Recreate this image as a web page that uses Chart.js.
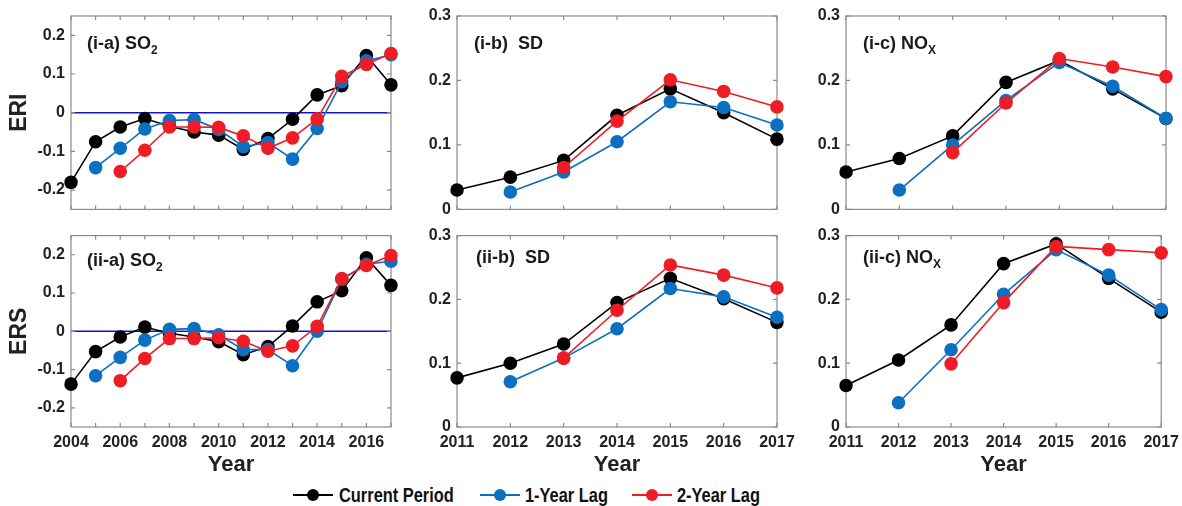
<!DOCTYPE html>
<html>
<head>
<meta charset="utf-8">
<script src="https://cdn.jsdelivr.net/npm/chart.js@4.4.1/dist/chart.umd.min.js"></script>
<style>
  body { margin: 0; background: #fff; }
  #wrap { position: relative; width: 1182px; height: 506px; overflow: hidden; font-family: "Liberation Sans", Arial, sans-serif; }
  canvas { position: absolute; }
  .lbl { position: absolute; font-weight: bold; font-size: 18px; color: #1a1a1a; white-space: nowrap; line-height: 18px; }
  .lbl sub { font-size: 12px; vertical-align: -5px; line-height: 0; }
  .leg { position: absolute; top: 484px; height: 22px; font-weight: bold; font-size: 20px; color: #111; white-space: nowrap; line-height: 22px; }
  .leg i { position: absolute; top: 10px; width: 40px; height: 2px; }
  .leg b { position: absolute; top: 5px; left: 14px; width: 12px; height: 12px; border-radius: 50%; }
  .leg span { display: inline-block; transform: scaleX(0.82); transform-origin: left center; }
</style>
</head>
<body>
<div id="wrap">
  <canvas id="c1" style="left:0;top:0" width="400" height="225"></canvas>
  <canvas id="c2" style="left:400px;top:0" width="405" height="225"></canvas>
  <canvas id="c3" style="left:805px;top:0" width="380" height="225"></canvas>
  <canvas id="c4" style="left:0;top:220px" width="400" height="258"></canvas>
  <canvas id="c5" style="left:400px;top:220px" width="405" height="258"></canvas>
  <canvas id="c6" style="left:805px;top:220px" width="380" height="258"></canvas>

  <div class="lbl" style="left:87px;top:34px">(i-a) SO<sub>2</sub></div>
  <div class="lbl" style="left:474px;top:34px">(i-b)&nbsp; SD</div>
  <div class="lbl" style="left:863px;top:34px">(i-c) NO<sub>X</sub></div>
  <div class="lbl" style="left:87px;top:251px">(ii-a) SO<sub>2</sub></div>
  <div class="lbl" style="left:476px;top:248px">(ii-b)&nbsp; SD</div>
  <div class="lbl" style="left:863px;top:248px">(ii-c) NO<sub>X</sub></div>

  <div class="leg" style="left:293px"><i style="background:#000"></i><b style="background:#000"></b><span style="margin-left:46px">Current Period</span></div>
  <div class="leg" style="left:480px"><i style="background:#0b6fc2"></i><b style="background:#0b6fc2"></b><span style="margin-left:45px">1-Year Lag</span></div>
  <div class="leg" style="left:632px"><i style="background:#ee1c25"></i><b style="background:#ee1c25"></b><span style="margin-left:45px">2-Year Lag</span></div>
</div>
<script>
// years
const yearsSO2 = [2004, 2005, 2006, 2007, 2008, 2009, 2010, 2011, 2012, 2013, 2014, 2015, 2016, 2017];
const yearsB = [2011, 2012, 2013, 2014, 2015, 2016, 2017];

// y tick labels
const ticksSO2 = [-0.2, -0.1, 0, 0.1, 0.2];
const ticksB = [0, 0.1, 0.2, 0.3];

// ERI
const eriSO2Cur  = [-0.18, -0.075, -0.037, -0.015, -0.035, -0.05, -0.058, -0.095, -0.067, -0.017, 0.046, 0.07, 0.148, 0.072];
const eriSO2Lag1 = [null, -0.142, -0.092, -0.042, -0.02, -0.018, -0.043, -0.088, -0.077, -0.12, -0.041, 0.08, 0.134, 0.15];
const eriSO2Lag2 = [null, null, -0.152, -0.097, -0.037, -0.037, -0.038, -0.06, -0.092, -0.065, -0.016, 0.094, 0.125, 0.153];

const eriSDCur  = [0.030, 0.050, 0.076, 0.146, 0.187, 0.150, 0.109];
const eriSDLag1 = [null, 0.027, 0.058, 0.105, 0.167, 0.158, 0.131];
const eriSDLag2 = [null, null, 0.065, 0.137, 0.201, 0.183, 0.159];

const eriNOxCur  = [0.058, 0.079, 0.114, 0.197, 0.231, 0.187, 0.141];
const eriNOxLag1 = [null, 0.030, 0.100, 0.169, 0.228, 0.191, 0.141];
const eriNOxLag2 = [null, null, 0.088, 0.165, 0.234, 0.221, 0.206];

// ERS
const ersSO2Cur  = [-0.138, -0.053, -0.015, 0.011, -0.005, -0.015, -0.027, -0.061, -0.04, 0.014, 0.077, 0.106, 0.192, 0.12];
const ersSO2Lag1 = [null, -0.116, -0.068, -0.023, 0.005, 0.007, -0.009, -0.048, -0.048, -0.09, 0.0, 0.136, 0.175, 0.183];
const ersSO2Lag2 = [null, null, -0.129, -0.071, -0.019, -0.019, -0.017, -0.026, -0.052, -0.038, 0.013, 0.138, 0.172, 0.198];

const ersSDCur  = [0.077, 0.100, 0.130, 0.195, 0.233, 0.201, 0.164];
const ersSDLag1 = [null, 0.071, 0.108, 0.154, 0.217, 0.204, 0.172];
const ersSDLag2 = [null, null, 0.108, 0.183, 0.254, 0.238, 0.218];

const ersNOxCur  = [0.065, 0.105, 0.160, 0.256, 0.287, 0.233, 0.180];
const ersNOxLag1 = [null, 0.038, 0.121, 0.208, 0.278, 0.238, 0.184];
const ersNOxLag2 = [null, null, 0.099, 0.195, 0.283, 0.278, 0.273];

const seriesNames = ['Current Period', '1-Year Lag', '2-Year Lag'];
const seriesColors = ['#000000', '#0b6fc2', '#ee1c25'];

Chart.defaults.font.family = '"Liberation Sans", Arial, sans-serif';
Chart.defaults.font.weight = 'bold';
Chart.defaults.color = '#222';

// matlab style box, inner ticks and the zero line
const boxPlugin = {
  id: 'box',
  beforeDatasetsDraw(chart, args, opts) {
    const { ctx, chartArea: a, scales: { x, y } } = chart;
    ctx.save();
    if (opts.zero) {
      const zy = y.getPixelForValue(0);
      ctx.strokeStyle = '#1414c8';
      ctx.lineWidth = 1.6;
      ctx.beginPath();
      ctx.moveTo(a.left, zy);
      ctx.lineTo(a.right, zy);
      ctx.stroke();
    }
    ctx.strokeStyle = '#8a8a8a';
    ctx.lineWidth = 1.2;
    ctx.strokeRect(a.left, a.top, a.width, a.height);
    ctx.beginPath();
    x.ticks.forEach((t, i) => {
      const px = x.getPixelForTick(i);
      ctx.moveTo(px, a.bottom); ctx.lineTo(px, a.bottom - 4);
      ctx.moveTo(px, a.top); ctx.lineTo(px, a.top + 4);
    });
    y.ticks.forEach((t) => {
      const py = y.getPixelForValue(t.value);
      ctx.moveTo(a.left, py); ctx.lineTo(a.left + 4, py);
      ctx.moveTo(a.right, py); ctx.lineTo(a.right - 4, py);
    });
    ctx.stroke();
    ctx.restore();
  }
};

function panel(id, cfg) {
  const sets = [cfg.cur, cfg.lag1, cfg.lag2].map((d, i) => ({
    label: seriesNames[i],
    data: d,
    borderColor: seriesColors[i],
    backgroundColor: seriesColors[i],
    borderWidth: 1.6,
    pointRadius: 6.8,
    pointBorderWidth: 0,
    order: 3 - i
  }));
  new Chart(document.getElementById(id), {
    type: 'line',
    data: { labels: cfg.years, datasets: sets },
    options: {
      responsive: false,
      animation: false,
      layout: { padding: { top: cfg.top, right: cfg.right, left: 0, bottom: 0 } },
      plugins: { legend: { display: false }, tooltip: { enabled: false }, box: { zero: cfg.zero } },
      scales: {
        x: {
          offset: false,
          grid: { display: false, drawTicks: false },
          border: { display: false },
          ticks: {
            display: cfg.showX,
            autoSkip: false,
            maxRotation: 0,
            padding: 6,
            font: { size: 16, weight: 'bold' },
            callback: function (v) {
              const yr = this.getLabelForValue(v);
              return (cfg.every2 && yr % 2) ? '' : yr;
            }
          },
          title: { display: cfg.showX, text: 'Year', font: { size: 22, weight: 'bold' }, padding: 0 },
          afterFit(s) { s.height = cfg.xh; }
        },
        y: {
          min: cfg.min,
          max: cfg.max,
          grid: { display: false, drawTicks: false },
          border: { display: false },
          afterBuildTicks(s) { s.ticks = cfg.yTicks.map(v => ({ value: v })); },
          ticks: {
            padding: 6,
            font: { size: 16, weight: 'bold' },
            callback: v => String(Math.round(v * 10) / 10)
          },
          title: { display: !!cfg.yTitle, text: cfg.yTitle || '', font: { size: 23, weight: 'bold' }, padding: { top: 6, bottom: 0 } },
          afterFit(s) { s.width = cfg.yw; }
        }
      }
    },
    plugins: [boxPlugin]
  });
}

const row1 = { top: 16, xh: 14, showX: false };
const row2 = { top: 13, xh: 51, showX: true };

panel('c1', { ...row1, years: yearsSO2, cur: eriSO2Cur, lag1: eriSO2Lag1, lag2: eriSO2Lag2, min: -0.25, max: 0.25, yTicks: ticksSO2, zero: true, yTitle: 'ERI', yw: 71, right: 9, every2: true });
panel('c2', { ...row1, years: yearsB, cur: eriSDCur, lag1: eriSDLag1, lag2: eriSDLag2, min: 0, max: 0.3, yTicks: ticksB, yw: 57, right: 28 });
panel('c3', { ...row1, years: yearsB, cur: eriNOxCur, lag1: eriNOxLag1, lag2: eriNOxLag2, min: 0, max: 0.3, yTicks: ticksB, yw: 41, right: 19 });
panel('c4', { ...row2, years: yearsSO2, cur: ersSO2Cur, lag1: ersSO2Lag1, lag2: ersSO2Lag2, min: -0.25, max: 0.25, yTicks: ticksSO2, zero: true, yTitle: 'ERS', yw: 71, right: 9, every2: true });
panel('c5', { ...row2, years: yearsB, cur: ersSDCur, lag1: ersSDLag1, lag2: ersSDLag2, min: 0, max: 0.3, yTicks: ticksB, yw: 57, right: 28 });
panel('c6', { ...row2, years: yearsB, cur: ersNOxCur, lag1: ersNOxLag1, lag2: ersNOxLag2, min: 0, max: 0.3, yTicks: ticksB, yw: 41, right: 19 });
</script>
</body>
</html>
